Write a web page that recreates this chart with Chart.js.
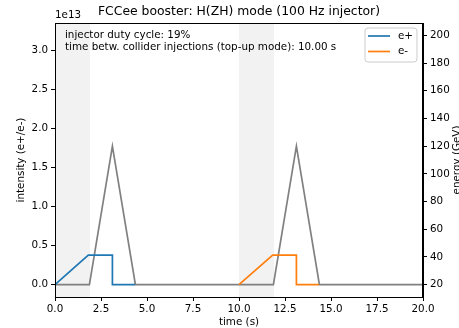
<!DOCTYPE html>
<html>
<head>
<meta charset="utf-8">
<script src="https://cdn.jsdelivr.net/npm/chart.js@4/dist/chart.umd.min.js"></script>
<style>
html,body{margin:0;padding:0;background:#fff;}
canvas{display:block;}
</style>
</head>
<body>
<canvas id="c" width="459" height="328"></canvas>
<script>
// ---- data ----
const positronT = [0, 1.81, 3.12, 3.12, 4.35];
const positronI = [0, 0.376e13, 0.376e13, 0, 0];
const electronT = [10, 11.83, 13.12, 13.12, 14.35];
const electronI = [0, 0.376e13, 0.376e13, 0, 0];
const energyT = [0, 1.87, 3.12, 4.37, 11.87, 13.12, 14.37, 20];
const energyE = [20, 20, 120, 20, 20, 120, 20, 20];
const injectorOn = [[0, 1.9], [10, 11.9]];
const xTicks = [0, 2.5, 5, 7.5, 10, 12.5, 15, 17.5, 20];
const yTicks = [0, 0.5e13, 1e13, 1.5e13, 2e13, 2.5e13, 3e13];
const y2Ticks = [20, 40, 60, 80, 100, 120, 140, 160, 180, 200];
const titleText = "FCCee booster: H(ZH) mode (100 Hz injector)";
const infoLines = ["injector duty cycle: 19%", "time betw. collider injections (top-up mode): 10.00 s"];
const legendLabels = ["e+", "e-"];

const FONT = "'DejaVu Sans', sans-serif";
const FS = 10.35, FT = 12.4;
const BLUE = "#1f77b4", ORANGE = "#ff7f0e", GREY = "#808080";
const LW = 1.7;

const pts = (t, v) => t.map((x, i) => ({x: x, y: v[i]}));

const frame = {
  id: 'frame',
  beforeDatasetsDraw(chart) {
    const {ctx, chartArea: a, scales} = chart;
    ctx.save();
    ctx.fillStyle = 'rgba(128,128,128,0.1)';
    injectorOn.forEach(([s, e]) => {
      const x0 = scales.x.getPixelForValue(s), x1 = scales.x.getPixelForValue(e);
      ctx.fillRect(x0, a.top, x1 - x0, a.bottom - a.top);
    });
    ctx.restore();
  },
  afterDraw(chart) {
    const {ctx, chartArea: a} = chart;
    ctx.save();
    ctx.strokeStyle = '#000'; ctx.lineWidth = 1;
    ctx.strokeRect(a.left + 0.5, a.top + 0.5, a.right - a.left - 1, a.bottom - a.top);
    // title
    ctx.fillStyle = '#000';
    ctx.font = FT + "px " + FONT;
    ctx.textAlign = 'center'; ctx.textBaseline = 'middle';
    ctx.fillText(titleText, (a.left + a.right) / 2, 12);
    // offset text
    ctx.font = FS + "px " + FONT;
    ctx.textAlign = 'left';
    ctx.fillText("1e13", a.left, 15);
    // info text
    ctx.fillText(infoLines[0], 65, 35.5);
    ctx.fillText(infoLines[1], 65, 47.5);
    // axis labels
    ctx.textAlign = 'center';
    ctx.fillText("time (s)", (a.left + a.right) / 2, 322);
    ctx.save();
    ctx.translate(21, (a.top + a.bottom) / 2);
    ctx.rotate(-Math.PI / 2);
    ctx.fillText("intensity (e+/e-)", 0, 0);
    ctx.restore();
    ctx.save();
    ctx.translate(457.5, (a.top + a.bottom) / 2);
    ctx.rotate(-Math.PI / 2);
    ctx.fillText("energy (GeV)", 0, 0);
    ctx.restore();
    // legend
    const lx = 365, ly = 28, lw = 52, lh = 34, r = 3;
    ctx.beginPath();
    ctx.moveTo(lx + r, ly); ctx.lineTo(lx + lw - r, ly); ctx.quadraticCurveTo(lx + lw, ly, lx + lw, ly + r);
    ctx.lineTo(lx + lw, ly + lh - r); ctx.quadraticCurveTo(lx + lw, ly + lh, lx + lw - r, ly + lh);
    ctx.lineTo(lx + r, ly + lh); ctx.quadraticCurveTo(lx, ly + lh, lx, ly + lh - r);
    ctx.lineTo(lx, ly + r); ctx.quadraticCurveTo(lx, ly, lx + r, ly);
    ctx.closePath();
    ctx.fillStyle = 'rgba(255,255,255,0.8)'; ctx.fill();
    ctx.strokeStyle = '#cccccc'; ctx.lineWidth = 1; ctx.stroke();
    const cols = [BLUE, ORANGE];
    legendLabels.forEach((lab, i) => {
      const y = 36 + i * 15.5;
      ctx.strokeStyle = cols[i]; ctx.lineWidth = LW;
      ctx.beginPath(); ctx.moveTo(368, y); ctx.lineTo(390, y); ctx.stroke();
      ctx.fillStyle = '#000'; ctx.textAlign = 'left'; ctx.textBaseline = 'middle';
      ctx.fillText(lab, 398, y);
    });
    ctx.restore();
  }
};

const tickSetter = (vals) => (scale) => { scale.ticks = vals.map(v => ({value: v})); };

new Chart(document.getElementById('c'), {
  type: 'line',
  data: {
    datasets: [
      {label: legendLabels[0], data: pts(positronT, positronI), borderColor: BLUE, yAxisID: 'y', borderWidth: LW},
      {label: legendLabels[1], data: pts(electronT, electronI), borderColor: ORANGE, yAxisID: 'y', borderWidth: LW},
      {label: 'energy', data: pts(energyT, energyE), borderColor: GREY, yAxisID: 'y2', borderWidth: LW}
    ]
  },
  options: {
    responsive: false,
    devicePixelRatio: 1,
    animation: false,
    parsing: true,
    elements: {point: {radius: 0}, line: {tension: 0, fill: false}},
    layout: {padding: {top: 23, left: 0, right: 0, bottom: 0}},
    plugins: {legend: {display: false}, title: {display: false}, tooltip: {enabled: false}},
    scales: {
      x: {
        type: 'linear', min: 0, max: 20,
        afterBuildTicks: tickSetter(xTicks),
        afterFit(s) { s.height = 31; },
        grid: {drawOnChartArea: false, drawTicks: true, tickLength: 4, tickColor: '#000'},
        border: {display: true, color: '#000'},
        ticks: {color: '#000', font: {family: FONT, size: FS}, padding: 2, maxRotation: 0,
                callback: v => v.toFixed(1)}
      },
      y: {
        type: 'linear', position: 'left', min: -0.159e13, max: 3.35e13,
        afterBuildTicks: tickSetter(yTicks),
        afterFit(s) { s.width = 55; },
        grid: {drawOnChartArea: false, drawTicks: true, tickLength: 4, tickColor: '#000'},
        border: {display: true, color: '#000'},
        ticks: {color: '#000', font: {family: FONT, size: FS}, padding: 3,
                callback: v => (v / 1e13).toFixed(1)}
      },
      y2: {
        type: 'linear', position: 'right', min: 11, max: 209,
        afterBuildTicks: tickSetter(y2Ticks),
        afterFit(s) { s.width = 36; },
        grid: {drawOnChartArea: false, drawTicks: true, tickLength: 4, tickColor: '#000'},
        border: {display: true, color: '#000'},
        ticks: {color: '#000', font: {family: FONT, size: FS}, padding: 3,
                callback: v => String(v)}
      }
    }
  },
  plugins: [frame]
});
</script>
</body>
</html>
